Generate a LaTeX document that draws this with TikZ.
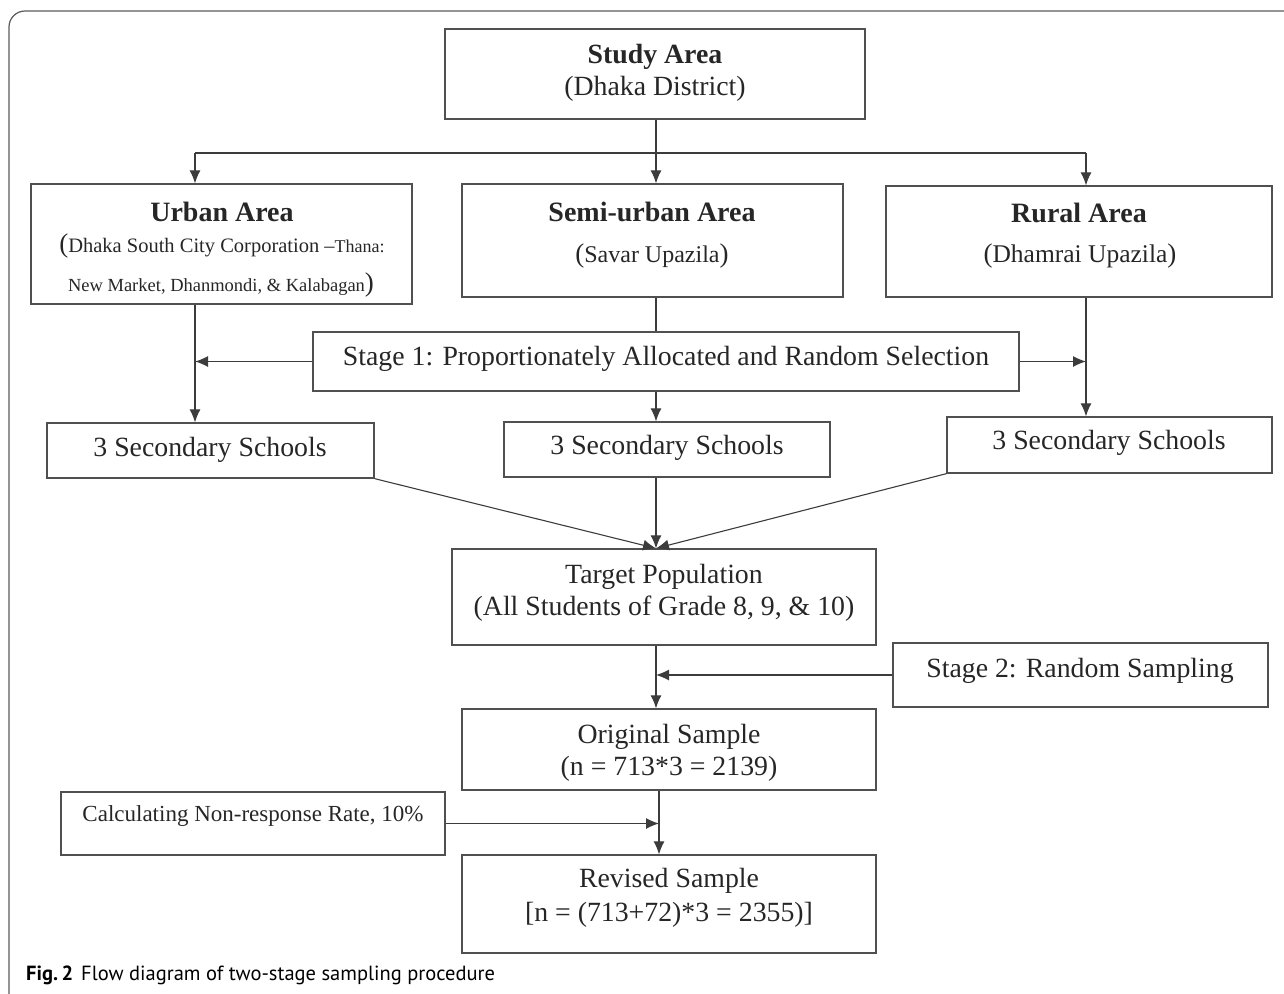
\documentclass[tikz,border=0pt]{standalone}
\usepackage{fontspec}
\setmainfont{Liberation Serif}
\newfontfamily\capfont{PT Sans}
\usetikzlibrary{arrows.meta}
\newcommand\FS[2]{\fontsize{#1}{#2}\selectfont}
\definecolor{linegray}{HTML}{3C3C3C}
\definecolor{boxgray}{HTML}{505050}
\definecolor{framegray}{HTML}{5A5A5A}
\begin{document}
\begin{tikzpicture}[x=1pt,y=-1pt,
  box/.style={draw=boxgray, line width=1.3pt, inner sep=0pt, rectangle},
  txt/.style={align=center, inner sep=0pt, text=black!85, font=\FS{27.8}{32}},
  conn/.style={draw=linegray, line width=1.1pt},
  arr/.style={conn, -{Latex[length=13pt,width=11pt]}}]
\useasboundingbox (0,0) rectangle (1284,993);
% frame
\draw[framegray, line width=1.2pt, rounded corners=16pt] (9,1001) -- (9,11) -- (1310,11);

% boxes
\node[box, minimum width=420, minimum height=90] (study) at (655,74) {};
\node[box, minimum width=381, minimum height=120] (urban) at (221.5,244) {};
\node[box, minimum width=381, minimum height=113] (semi) at (652.5,240.5) {};
\node[box, minimum width=386, minimum height=111] (rural) at (1079,241.5) {};
\node[box, minimum width=706, minimum height=59] (stage1) at (666,361.5) {};
\node[box, minimum width=327, minimum height=55] (s1) at (210.5,450.5) {};
\node[box, minimum width=326, minimum height=55] (s2) at (667,449.5) {};
\node[box, minimum width=325, minimum height=56] (s3) at (1109.5,445) {};
\node[box, minimum width=424, minimum height=96] (target) at (664,597) {};
\node[box, minimum width=375, minimum height=64] (stage2) at (1080.5,675) {};
\node[box, minimum width=414, minimum height=81] (orig) at (669,749.5) {};
\node[box, minimum width=384, minimum height=63] (calc) at (253,823.5) {};
\node[box, minimum width=414, minimum height=98] (rev) at (669,904) {};

% texts
\node[txt] (studyT) at (655,73) {\textbf{Study Area}\\ (Dhaka District)};
\node[txt, font=\FS{28}{32}\bfseries] (urbanT) at (222,212) {Urban Area};
\node[txt] (urbanA) at (222,246) {\FS{27}{30}(\FS{20.5}{24}Dhaka South City Corporation –\FS{18}{20}Thana:};
\node[txt] (urbanB) at (221,285) {\FS{18.5}{20}New Market, Dhanmondi, \& Kalabagan\FS{27}{30})};
\node[txt, font=\FS{28}{32}\bfseries] (semiT) at (652,212) {Semi-urban Area};
\node[txt] (semiS) at (652,256) {\FS{27}{30}(\FS{24}{28}Savar Upazila\FS{27}{30})};
\node[txt, font=\FS{28}{32}\bfseries] (ruralT) at (1079,213) {Rural Area};
\node[txt] (ruralS) at (1080,256) {\FS{27}{30}(\FS{25.5}{28}Dhamrai Upazila\FS{27}{30})};
\node[txt] (stage1T) at (666,359) {Stage 1: Proportionately Allocated and Random Selection};
\node[txt] (s1T) at (210,450) {3 Secondary Schools};
\node[txt] (s2T) at (667,448) {3 Secondary Schools};
\node[txt] (s3T) at (1109,443) {3 Secondary Schools};
\node[txt] (targetT) at (664,593) {Target Population\\(All Students of Grade 8, 9, \& 10)};
\node[txt] (stage2T) at (1080,671) {Stage 2: Random Sampling};
\node[txt] (origT) at (669,753) {Original Sample\\(n = 713*3 = 2139)};
\node[txt, font=\FS{23}{26}] (calcT) at (253,816) {Calculating Non-response Rate, 10\%};
\node[txt, font=\FS{27.8}{34}] (revT) at (669,898) {Revised Sample\\{}[n = (713+72)*3 = 2355)]};

% connectors
\coordinate (bL) at (195,153);
\coordinate (bM) at (656,153);
\coordinate (bR) at (1086,153);
\coordinate (m2) at (659,0);
\draw[conn] (bM |- study.south) -- (bM);
\draw[conn] (bL) -- (bR);
\draw[arr] (bL) -- (bL |- urban.north);
\draw[arr] (bM) -- (bM |- semi.north);
\draw[arr] (bR) -- (bR |- rural.north);

\draw[arr] (bL |- urban.south) -- (bL |- s1.north);
\draw[arr] (stage1.west) -- (stage1.west -| bL);
\draw[conn] (bM |- semi.south) -- (bM |- stage1.north);
\draw[arr] (bM |- stage1.south) -- (bM |- s2.north);
\draw[arr] (bR |- rural.south) -- (bR |- s3.north);
\draw[arr] (stage1.east) -- (stage1.east -| bR);

\draw[arr] (s1.south east) -- (bM |- target.north);
\draw[arr] (bM |- s2.south) -- (bM |- target.north);
\draw[arr] (s3.south west) -- (bM |- target.north);

\draw[arr] (bM |- target.south) -- (bM |- orig.north);
\draw[arr] (stage2.west) -- (stage2.west -| bM);
\draw[arr] (m2 |- orig.south) -- (m2 |- rev.north);
\draw[arr] (calc.east) -- (calc.east -| m2);

% caption
\node[anchor=west, inner sep=0pt] (cap) at (26,975) {\capfont\FS{20.5}{23}\textbf{Fig.\,2}\hspace{8pt}Flow diagram of two-stage sampling procedure};
\end{tikzpicture}
\end{document}
